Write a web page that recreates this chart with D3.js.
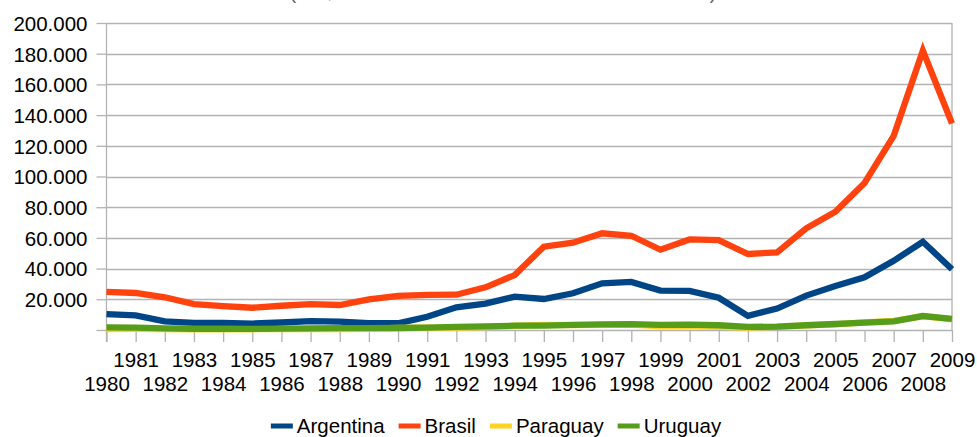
<!DOCTYPE html>
<html>
<head>
<meta charset="utf-8">
<script src="https://cdn.jsdelivr.net/npm/d3@7"></script>
<style>
  html, body { margin: 0; padding: 0; background: #fff; }
  svg { display: block; }
  text { font-family: "Liberation Sans", Arial, sans-serif; }
</style>
</head>
<body>
<svg id="chart" width="977" height="437"></svg>
<script>
// Imports of the MERCOSUR countries, US$ millions, 1980-2009
const years = d3.range(1980, 2010).map(String);

const argentina = [10400, 9500, 5600, 4700, 4700, 4200, 4900, 5800, 5400, 4400, 4400,
  8600, 14800, 17200, 21700, 20200, 23900, 30400, 31300, 25700, 25500,
  21000, 9200, 14000, 22400, 28700, 34300, 45100, 57500, 39600];

const brasil = [24900, 24100, 21300, 16900, 15600, 14500, 15800, 16800, 16300, 20000, 22200,
  22900, 23000, 27800, 35800, 54300, 56900, 63000, 61400, 52300, 59000,
  58600, 49500, 50600, 66200, 77100, 95800, 126500, 182000, 134500];

const paraguay = [600, 700, 600, 500, 500, 500, 600, 600, 600, 800, 1300,
  1500, 1600, 1900, 2600, 3300, 3200, 3400, 3500, 2400, 2300,
  2100, 1500, 2100, 3000, 3600, 5000, 5900, 9000, 6900];

const uruguay = [1700, 1600, 1100, 800, 800, 700, 900, 1100, 1200, 1200, 1300,
  1600, 2000, 2300, 2800, 2900, 3300, 3700, 3800, 3400, 3500,
  3100, 2000, 2200, 3100, 3900, 4800, 5600, 9100, 7200];

const seriesNames = ["Argentina", "Brasil", "Paraguay", "Uruguay"];
const seriesColors = ["#004586", "#ff420e", "#ffd320", "#579d1c"];
const yTicks = [0, 20000, 40000, 60000, 80000, 100000, 120000, 140000, 160000, 180000, 200000];
const subtitle = "(US$ millones a valores corrientes de cada año)";

const series = [argentina, brasil, paraguay, uruguay].map((values, i) => ({
  name: seriesNames[i], color: seriesColors[i], values
}));

const svg = d3.select("#chart");
const plotL = 106.5, plotR = 952, plotT = 23, plotB = 330;
const grid = "#b3b3b3";
const fontSize = 20.5;

const x = d3.scalePoint().domain(years).range([plotL, plotR]);
const y = d3.scaleLinear().domain([0, 200000]).range([plotB, plotT]);

const yFmt = d => d === 0 ? "" : d3.format(",")(d).replace(/,/g, ".");

// subtitle running off the top edge
svg.append("text")
  .attr("x", 503).attr("y", -1)
  .attr("text-anchor", "middle")
  .attr("font-size", 20)
  .attr("fill", "#666")
  .text(subtitle);

// horizontal grid
svg.append("g").selectAll("line")
  .data(yTicks)
  .join("line")
  .attr("x1", plotL).attr("x2", plotR)
  .attr("y1", d => Math.round(y(d)) + 0.5).attr("y2", d => Math.round(y(d)) + 0.5)
  .attr("stroke", grid).attr("stroke-width", 1.3);

// right frame edge
svg.append("line")
  .attr("x1", plotR).attr("x2", plotR).attr("y1", plotT).attr("y2", plotB)
  .attr("stroke", grid).attr("stroke-width", 1.3);

// y axis
const yAxis = svg.append("g")
  .attr("transform", `translate(${plotL},0)`)
  .call(d3.axisLeft(y).tickValues(yTicks).tickSize(10).tickPadding(9).tickFormat(yFmt));
yAxis.select(".domain").remove();
yAxis.selectAll(".tick line").attr("stroke", grid).attr("stroke-width", 1.3);
yAxis.selectAll(".tick text").attr("font-size", fontSize).attr("fill", "#000")
  .attr("font-family", "Liberation Sans, Arial, sans-serif").attr("dy", "0.36em");
svg.append("line")
  .attr("x1", plotL).attr("x2", plotL).attr("y1", plotT).attr("y2", plotB + 12)
  .attr("stroke", grid).attr("stroke-width", 1.3);

// x axis, labels staggered on two rows
const xAxis = svg.append("g")
  .attr("transform", `translate(0,${plotB})`)
  .call(d3.axisBottom(x).tickSize(12).tickSizeOuter(0));
xAxis.select(".domain").remove();
xAxis.selectAll(".tick line").attr("stroke", grid).attr("stroke-width", 1.3);
xAxis.selectAll(".tick text")
  .attr("font-size", fontSize).attr("fill", "#000")
  .attr("font-family", "Liberation Sans, Arial, sans-serif")
  .attr("dy", null)
  .attr("y", (d, i) => i % 2 === 1 ? 37 : 61);

// lines
const line = d3.line().x((d, i) => x(years[i])).y(d => y(d));
svg.append("g").selectAll("path")
  .data(series)
  .join("path")
  .attr("d", d => line(d.values))
  .attr("fill", "none")
  .attr("stroke", d => d.color)
  .attr("stroke-width", 6.3)
  .attr("stroke-linejoin", "miter");

// legend
const legend = svg.append("g");
let cx = 0;
series.forEach(s => {
  const g = legend.append("g");
  g.append("line").attr("x1", 0).attr("x2", 22).attr("y1", 0).attr("y2", 0)
    .attr("stroke", s.color).attr("stroke-width", 5);
  const t = g.append("text").attr("x", 26).attr("y", 7)
    .attr("font-size", fontSize).attr("fill", "#000").text(s.name);
  const w = 26 + t.node().getComputedTextLength();
  g.attr("transform", `translate(${cx},0)`);
  cx += w + 14;
});
const total = cx - 14;
legend.attr("transform", `translate(${496 - total / 2},426)`);
</script>
</body>
</html>
